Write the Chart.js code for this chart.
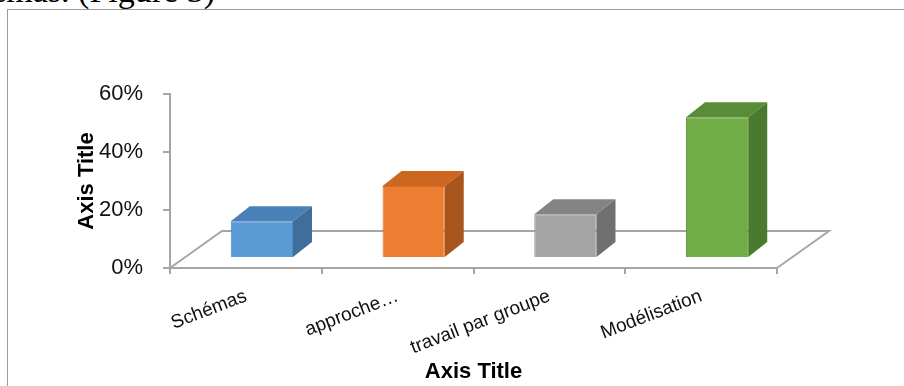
<!DOCTYPE html>
<html><head><meta charset="utf-8">
<script src="https://cdn.jsdelivr.net/npm/chart.js@4/dist/chart.umd.min.js"></script>
<style>
html,body{margin:0;padding:0;background:#fff;overflow:hidden}
#wrap{position:relative;width:904px;height:386px;overflow:hidden;background:#fff}
#cap{position:absolute;right:689px;top:-26px;font:34px "Liberation Serif";line-height:34px;white-space:nowrap;color:#000}
#frame{position:absolute;left:7px;top:9px;width:920px;height:400px;border:1px solid #9c9c9c;box-sizing:border-box}
canvas{position:absolute;left:0;top:0}
</style></head><body>
<div id="wrap"><div id="cap">schémas. (Figure 3)</div><div id="frame"></div><canvas id="c" width="904" height="386"></canvas></div>
<script>
// ---- data ----
const categories = ['Schémas', 'approche…', 'travail par groupe', 'Modélisation'];
const values = [12.7, 24.8, 15.1, 48.5];
const yTicks = [0, 20, 40, 60];
const axisTitleX = 'Axis Title';
const axisTitleY = 'Axis Title';

// ---- styles ----
const frontColors = ['#5B9BD5', '#ED7D31', '#A5A5A5', '#70AD47'];
const borderColors = ['#4F89BE', '#D26C28', '#959595', '#629A3D'];
const topColors = ['#4A80B8', '#CC6620', '#848484', '#598C38'];
const sideColors = ['#3F6E9C', '#A9561E', '#707070', '#4A7A2E'];
const G = { bx: 16, by: -10, dx: 19, dy: -15, fx: 52, fy: -37 };

const bar3d = {
  id: 'bar3d',
  beforeDatasetsDraw(chart) {
    const { ctx, chartArea: a } = chart;
    ctx.save();
    ctx.strokeStyle = '#A6A6A6';
    ctx.lineWidth = 2;
    ctx.beginPath();
    ctx.moveTo(a.left, a.bottom);
    ctx.lineTo(a.left + G.fx, a.bottom + G.fy);
    ctx.lineTo(a.right + G.fx, a.bottom + G.fy);
    ctx.lineTo(a.right, a.bottom);
    ctx.stroke();
    ctx.restore();
    ctx.save();
    ctx.translate(G.bx, G.by);
  },
  afterDatasetsDraw(chart) {
    const ctx = chart.ctx;
    chart.getDatasetMeta(0).data.forEach((el, i) => {
      const p = el.getProps(['x', 'y', 'base', 'width'], true);
      const l = p.x - p.width / 2, r = p.x + p.width / 2, t = p.y, b = p.base;
      ctx.fillStyle = topColors[i];
      ctx.beginPath();
      ctx.moveTo(l, t); ctx.lineTo(l + G.dx, t + G.dy); ctx.lineTo(r + G.dx, t + G.dy); ctx.lineTo(r, t);
      ctx.closePath(); ctx.fill();
      ctx.fillStyle = sideColors[i];
      ctx.beginPath();
      ctx.moveTo(r, t); ctx.lineTo(r + G.dx, t + G.dy); ctx.lineTo(r + G.dx, b + G.dy); ctx.lineTo(r, b);
      ctx.closePath(); ctx.fill();
    });
    ctx.restore();
  }
};

new Chart(document.getElementById('c'), {
  type: 'bar',
  data: {
    labels: categories,
    datasets: [{
      data: values,
      backgroundColor: frontColors,
      borderColor: borderColors,
      borderWidth: 1,
      barPercentage: 0.41,
      categoryPercentage: 1,
      clip: false
    }]
  },
  options: {
    responsive: false,
    animation: false,
    events: [],
    layout: { padding: { left: 0, right: 127, top: 94, bottom: 0 } },
    plugins: { legend: { display: false }, tooltip: { enabled: false } },
    scales: {
      x: {
        afterFit(s) { s.height = 118; },
        grid: { drawOnChartArea: false, drawTicks: true, tickLength: 6, color: '#A6A6A6', lineWidth: 2 },
        border: { display: true, color: '#A6A6A6', width: 2 },
        ticks: {
          autoSkip: false, minRotation: 21, maxRotation: 21, padding: 11,
          color: '#111', font: { family: '"Liberation Sans", Arial, sans-serif', size: 19 }
        },
        title: {
          display: true, text: axisTitleX, color: '#000',
          font: { family: '"Liberation Sans", Arial, sans-serif', size: 22, weight: 'bold' },
          padding: { top: 0, bottom: 1 }
        }
      },
      y: {
        min: yTicks[0], max: yTicks[yTicks.length - 1],
        afterFit(s) { s.width = 170; },
        afterBuildTicks(s) { s.ticks = yTicks.map(v => ({ value: v })); },
        grid: { drawOnChartArea: false, drawTicks: true, tickLength: 7, color: '#A6A6A6', lineWidth: 2 },
        border: { display: true, color: '#A6A6A6', width: 2 },
        ticks: {
          padding: 20, color: '#111',
          font: { family: '"Liberation Sans", Arial, sans-serif', size: 22 },
          callback: v => v + '%'
        },
        title: {
          display: true, text: axisTitleY, color: '#000',
          font: { family: '"Liberation Sans", Arial, sans-serif', size: 22, weight: 'bold' },
          padding: { top: 74, bottom: 0 }
        }
      }
    }
  },
  plugins: [bar3d]
});
</script>
</body></html>
